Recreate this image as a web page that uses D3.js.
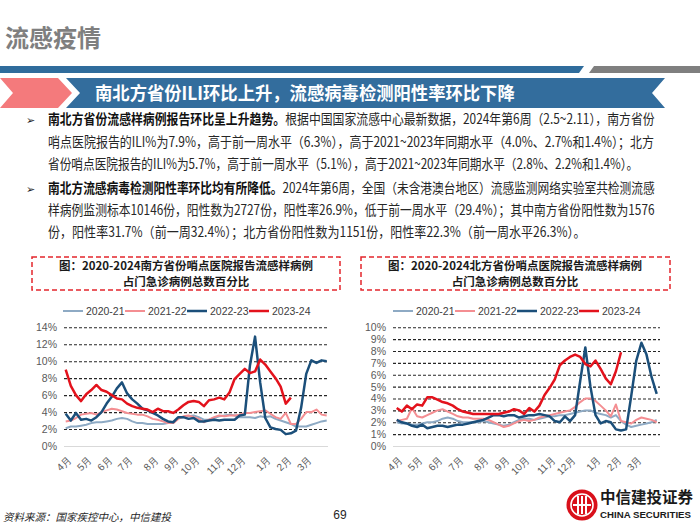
<!DOCTYPE html>
<html>
<head>
<meta charset="utf-8">
<title>流感疫情</title>
<script src="https://cdn.jsdelivr.net/npm/d3@7"></script>
<style>
  body { margin: 0; background: #fff; }
  svg { display: block; font-family: "Noto Sans CJK SC", "Noto Sans", sans-serif; }
</style>
</head>
<body>
<script>
// ---- data ----
const seasons = ["2020-21", "2021-22", "2022-23", "2023-24"];
const monthLabels = ["4月", "5月", "6月", "7月", "8月", "9月", "10月", "11月", "12月", "1月", "2月", "3月"];
const monthWeekIndex = [0, 4, 8, 12, 17, 21, 25, 30, 34, 39, 43, 47]; // week slot where each month label sits

const southTicks = [0, 2, 4, 6, 8, 10, 12, 14];
const northTicks = [0, 1, 2, 3, 4, 5, 6, 7, 8, 9, 10];

// left panel (titled 南方), weekly ILI %, week 14 .. week 13
const south2020 = [2.1, 2.3, 2.3, 2.4, 2.5, 2.7, 2.8, 2.8, 2.9, 3.0,
                   3.2, 3.3, 3.2, 2.9, 2.7, 2.7, 2.6, 2.6, 2.6, 2.6,
                   2.7, 2.8, 3.3, 3.4, 3.5, 3.6, 3.4, 3.1, 3.1, 3.3,
                   3.5, 3.6, 3.7, 3.6, 3.4, 3.4, 3.4, 3.3, 3.5, 3.4,
                   3.5, 3.2, 3.0, 2.8, 2.6, 2.3, 2.3, 2.3, 2.5, 2.7,
                   2.9, 3.0];
const south2021 = [2.9, 3.0, 3.3, 3.7, 3.8, 3.9, 3.7, 4.0, 4.2, 4.4,
                   4.3, 4.1, 3.9, 3.8, 3.7, 3.7, 3.5, 3.2, 3.1, 2.9,
                   2.7, 2.7, 3.2, 3.5, 3.6, 3.4, 3.2, 2.8, 3.1, 3.4,
                   3.6, 3.5, 3.6, 3.6, 3.7, 3.9, 3.9, 4.0, 4.1, 4.2,
                   3.8, 3.4, 3.2, 3.9, 2.6, 2.6, 3.2, 4.0, 4.0, 4.3,
                   3.7, 3.6];
const south2022 = [3.8, 3.0, 3.9, 3.1, 3.2, 3.0, 3.4, 4.0, 5.0, 5.8,
                   6.8, 7.5, 6.2, 5.5, 5.0, 4.4, 4.2, 3.9, 3.6, 3.2,
                   2.9, 2.8, 3.4, 3.4, 3.2, 3.3, 2.9, 2.9, 3.0, 3.1,
                   3.0, 3.1, 3.1, 3.1, 3.6, 3.7, 9.5, 12.9, 7.5, 3.3,
                   2.2, 2.0, 1.9, 1.4, 1.5, 1.8, 4.5, 8.5, 10.1, 9.8,
                   10.1, 10.0];
const south2023 = [9.0, 7.1, 6.0, 5.3, 6.1, 6.6, 7.2, 6.6, 6.4, 6.0,
                   5.6, 5.5, 5.0, 4.7, 4.5, 4.4, 4.3, 4.0, 4.4, 4.1,
                   4.1, 3.9, 4.3, 4.8, 5.2, 5.3, 5.2, 4.7, 5.4, 5.5,
                   5.7, 5.5, 6.3, 7.9, 8.5, 9.1, 8.6, 8.8, 10.2, 9.6,
                   8.8, 8.0, 7.0, 5.0, 5.7];

// right panel (titled 北方)
const north2020 = [2.0, 1.9, 1.9, 1.8, 1.8, 1.9, 2.0, 2.0, 2.1, 2.3,
                   2.4, 2.3, 2.1, 2.0, 2.0, 2.0, 2.0, 2.1, 2.0, 1.9,
                   1.8, 1.7, 1.8, 2.0, 2.2, 2.3, 2.3, 2.2, 2.3, 2.4,
                   2.5, 2.5, 2.6, 2.6, 2.7, 2.8, 2.9, 3.0, 3.0, 2.8,
                   2.7, 2.6, 2.4, 2.6, 2.1, 1.8, 1.6, 1.7, 1.8, 1.9,
                   2.0, 2.2];
const north2021 = [2.1, 2.2, 2.3, 3.2, 2.5, 2.4, 2.6, 2.8, 3.0, 3.1,
                   2.9, 2.7, 2.5, 2.4, 2.4, 2.3, 2.3, 2.3, 2.2, 2.0,
                   1.8, 1.6, 1.7, 1.9, 2.1, 2.2, 2.1, 2.2, 2.4, 2.5,
                   2.6, 2.7, 2.8, 2.9, 3.0, 3.3, 3.7, 4.0, 4.0, 3.8,
                   3.4, 3.0, 2.5, 3.5, 2.1, 2.0, 1.9, 2.2, 2.4, 2.3,
                   2.2, 2.0];
const north2022 = [2.2, 2.0, 1.9, 1.7, 1.6, 1.8, 1.5, 1.6, 1.7, 1.7,
                   1.6, 1.7, 1.8, 1.8, 1.9, 2.0, 2.1, 2.2, 2.4, 2.6,
                   2.6, 2.5, 2.6, 2.6, 2.4, 2.5, 2.6, 2.6, 2.7, 2.6,
                   2.5, 2.1, 2.0, 2.5, 2.1, 2.6, 5.5, 8.3, 5.0, 2.6,
                   1.9, 2.1, 2.0, 1.4, 1.3, 1.4, 4.2, 7.2, 8.7, 7.7,
                   5.8, 4.4];
const north2023 = [3.2, 2.9, 3.4, 3.1, 3.5, 3.4, 4.1, 4.1, 3.9, 3.7,
                   3.6, 3.4, 3.1, 2.9, 2.8, 2.7, 2.7, 2.7, 2.7, 2.7,
                   2.7, 2.8, 2.9, 3.1, 3.0, 2.7, 3.2, 2.9, 3.4, 4.3,
                   4.9, 5.6, 6.8, 7.2, 7.5, 7.7, 7.5, 6.9, 6.7, 7.2,
                   6.5, 5.7, 5.2, 6.3, 7.9];

// ---- styles ----
const seriesColor = ["#8eaac4", "#f48e92", "#1b4f7a", "#e3121c"];
const seriesWidth = [2, 2, 2.5, 2.5];

const svg = d3.select("body").append("svg")
  .attr("width", 700)
  .attr("height", 525);

drawHeader();
drawBullets();
drawPanel({
  box: [32, 340], cx: 186, plot: [65.7, 326.7], grid: [64, 328], legendX: 63,
  ticks: southTicks,
  series: [south2020, south2021, south2022, south2023],
  title: ["图：2020-2024南方省份哨点医院报告流感样病例", "占门急诊病例总数百分比"]
});
drawPanel({
  box: [361, 670], cx: 515, plot: [396.7, 656.7], grid: [393, 660], legendX: 393,
  ticks: northTicks,
  series: [north2020, north2021, north2022, north2023],
  title: ["图：2020-2024北方省份哨点医院报告流感样病例", "占门急诊病例总数百分比"]
});
drawFooter();

// squeeze a text group horizontally so it spans a given width
function fitText(g, x, y, width) {
  const w = g.node().getBBox().width;
  g.attr("transform", `translate(${x},${y}) scale(${width / w},1)`);
}

function drawHeader() {
  svg.append("text")
    .attr("x", 5).attr("y", 47)
    .style("font-size", "24px").style("font-weight", "bold")
    .style("fill", "#7f7f7f")
    .text("流感疫情");

  svg.append("polygon")
    .attr("points", "0,66 584,66 579,73 0,73")
    .style("fill", "#2f6c9c");
  svg.append("polygon")
    .attr("points", "594,66 700,66 700,73 589,73")
    .style("fill", "#7f7f7f");

  // banner
  svg.append("polygon")
    .attr("points", "66,78 665,78 652,93 665,108 66,108 80,93")
    .style("fill", "#336d9d");
  svg.append("polygon")
    .attr("points", "0,78 58,78 72,93 58,108 0,108 13,93")
    .style("fill", "#f47a7c");

  const g = svg.append("g");
  g.append("text")
    .style("font-size", "18px").style("font-weight", "bold")
    .style("fill", "#fff")
    .text("南北方省份ILI环比上升，流感病毒检测阳性率环比下降");
  fitText(g, 95, 100, 420);
}

function drawBullets() {
  const lines = [
    { y: 124, w: 607, bold: "南北方省份流感样病例报告环比呈上升趋势。", rest: "根据中国国家流感中心最新数据，2024年第6周（2.5~2.11），南方省份" },
    { y: 147, w: 607, bold: "", rest: "哨点医院报告的ILI%为7.9%，高于前一周水平（6.3%），高于2021~2023年同期水平（4.0%、2.7%和1.4%）；北方" },
    { y: 169, w: 591, bold: "", rest: "省份哨点医院报告的ILI%为5.7%，高于前一周水平（5.1%），高于2021~2023年同期水平（2.8%、2.2%和1.4%）。" },
    { y: 193, w: 607, bold: "南北方流感病毒检测阳性率环比均有所降低。", rest: "2024年第6周，全国（未含港澳台地区）流感监测网络实验室共检测流感" },
    { y: 215, w: 607, bold: "", rest: "样病例监测标本10146份，阳性数为2727份，阳性率26.9%，低于前一周水平（29.4%）；其中南方省份阳性数为1576" },
    { y: 237, w: 538, bold: "", rest: "份，阳性率31.7%（前一周32.4%）；北方省份阳性数为1151份，阳性率22.3%（前一周水平26.3%）。" }
  ];

  lines.forEach(function (d) {
    if (d.bold) {
      svg.append("text")
        .attr("x", 26).attr("y", d.y)
        .style("font-size", "11px").style("fill", "#222")
        .text("➢");
    }
    const g = svg.append("g");
    const t = g.append("text")
      .style("font-size", "14px").style("fill", "#262626");
    if (d.bold) {
      t.append("tspan").style("font-weight", "bold").style("fill", "#111").text(d.bold);
    }
    t.append("tspan").text(d.rest);
    fitText(g, 48, d.y, d.w);
  });
}

function drawPanel(p) {
  const yMax = p.ticks[p.ticks.length - 1];
  const x = d3.scaleLinear().domain([0, 51]).range(p.plot);
  const y = d3.scaleLinear().domain([0, yMax]).range([446, 327.3]);

  // dashed red title box
  svg.append("rect")
    .attr("x", p.box[0]).attr("y", 257)
    .attr("width", p.box[1] - p.box[0]).attr("height", 33)
    .style("fill", "none")
    .style("stroke", "#e3262d")
    .style("stroke-width", 1.5)
    .style("stroke-dasharray", "5,3");

  svg.selectAll(null)
    .data(p.title)
    .enter()
    .append("text")
    .attr("x", p.cx)
    .attr("y", (d, i) => 270 + i * 16)
    .style("text-anchor", "middle")
    .style("font-size", "11.5px").style("font-weight", "bold")
    .style("fill", "#1a1a1a")
    .text(d => d);

  // legend
  const legend = svg.append("g")
    .attr("transform", `translate(${p.legendX},311)`);
  const item = legend.selectAll("g")
    .data(seasons)
    .enter()
    .append("g")
    .attr("transform", (d, i) => `translate(${i * 62},0)`);
  item.append("line")
    .attr("x1", 0).attr("x2", 20)
    .style("stroke", (d, i) => seriesColor[i])
    .style("stroke-width", (d, i) => seriesWidth[i]);
  item.append("text")
    .attr("x", 23).attr("y", 3.5)
    .style("font-family", "'Liberation Sans', Arial, sans-serif")
    .style("font-size", "10.5px").style("fill", "#404040")
    .text(d => d);

  // y axis + dashed gridlines
  const yAxis = svg.append("g")
    .attr("transform", `translate(${p.grid[0]},0)`)
    .call(d3.axisLeft(y)
      .tickValues(p.ticks)
      .tickFormat(d => d + "%")
      .tickSize(-(p.grid[1] - p.grid[0]))
      .tickPadding(7));
  yAxis.select(".domain").remove();
  yAxis.selectAll(".tick line")
    .style("stroke", d => d === 0 ? "#d9d9d9" : "#262626")
    .style("stroke-width", d => d === 0 ? 1.2 : 1.1)
    .style("stroke-dasharray", d => d === 0 ? null : "3,2");
  yAxis.selectAll(".tick text")
    .style("font-family", "'Liberation Sans', Arial, sans-serif")
    .style("font-size", "10.5px")
    .style("fill", "#595959");

  // x axis month labels, rotated
  const xAxis = svg.append("g")
    .attr("transform", "translate(0,446)")
    .call(d3.axisBottom(x)
      .tickValues(monthWeekIndex)
      .tickFormat((d, i) => monthLabels[i])
      .tickSize(0));
  xAxis.select(".domain").remove();
  xAxis.selectAll(".tick text")
    .attr("x", 0).attr("y", 0).attr("dy", "0.35em")
    .attr("transform", "translate(3,12) rotate(-45)")
    .style("text-anchor", "end")
    .style("font-size", "10px")
    .style("fill", "#595959");

  // season lines, latest drawn on top
  const line = d3.line()
    .x((d, i) => x(i))
    .y(d => y(d));
  svg.append("g")
    .selectAll("path")
    .data(p.series)
    .enter()
    .append("path")
    .attr("d", line)
    .style("fill", "none")
    .style("stroke", (d, i) => seriesColor[i])
    .style("stroke-width", (d, i) => seriesWidth[i])
    .style("stroke-linejoin", "round");
}

function drawFooter() {
  svg.append("text")
    .attr("x", 3).attr("y", 521)
    .style("font-size", "10.5px").style("font-style", "italic")
    .style("fill", "#262626")
    .text("资料来源：国家疾控中心，中信建投");

  svg.append("text")
    .attr("x", 340).attr("y", 519)
    .style("text-anchor", "middle")
    .style("font-family", "'Liberation Sans', Arial, sans-serif")
    .style("font-size", "12px").style("fill", "#262626")
    .text("69");

  // logo
  const logo = svg.append("g").attr("transform", "translate(582,505)");
  logo.append("circle").attr("r", 15.5).style("fill", "#d9101a");
  logo.append("circle").attr("r", 11).style("fill", "none")
    .style("stroke", "#fff").style("stroke-width", 1.6);
  logo.selectAll("rect")
    .data([-5, -1, 3])
    .enter()
    .append("rect")
    .attr("x", d => d).attr("y", -9)
    .attr("width", 2).attr("height", 18)
    .style("fill", "#fff");
  logo.append("rect")
    .attr("x", -9).attr("y", -1).attr("width", 18).attr("height", 2)
    .style("fill", "#fff");

  svg.append("text")
    .attr("x", 600).attr("y", 503)
    .style("font-size", "15.5px").style("font-weight", "bold")
    .style("fill", "#1a1a1a")
    .text("中信建投证券");
  svg.append("text")
    .attr("x", 600).attr("y", 518)
    .attr("textLength", 91).attr("lengthAdjust", "spacingAndGlyphs")
    .style("font-family", "'Liberation Sans', Arial, sans-serif")
    .style("font-size", "9px").style("font-weight", "bold")
    .style("fill", "#1a1a1a")
    .text("CHINA SECURITIES");
}
</script>
</body>
</html>
